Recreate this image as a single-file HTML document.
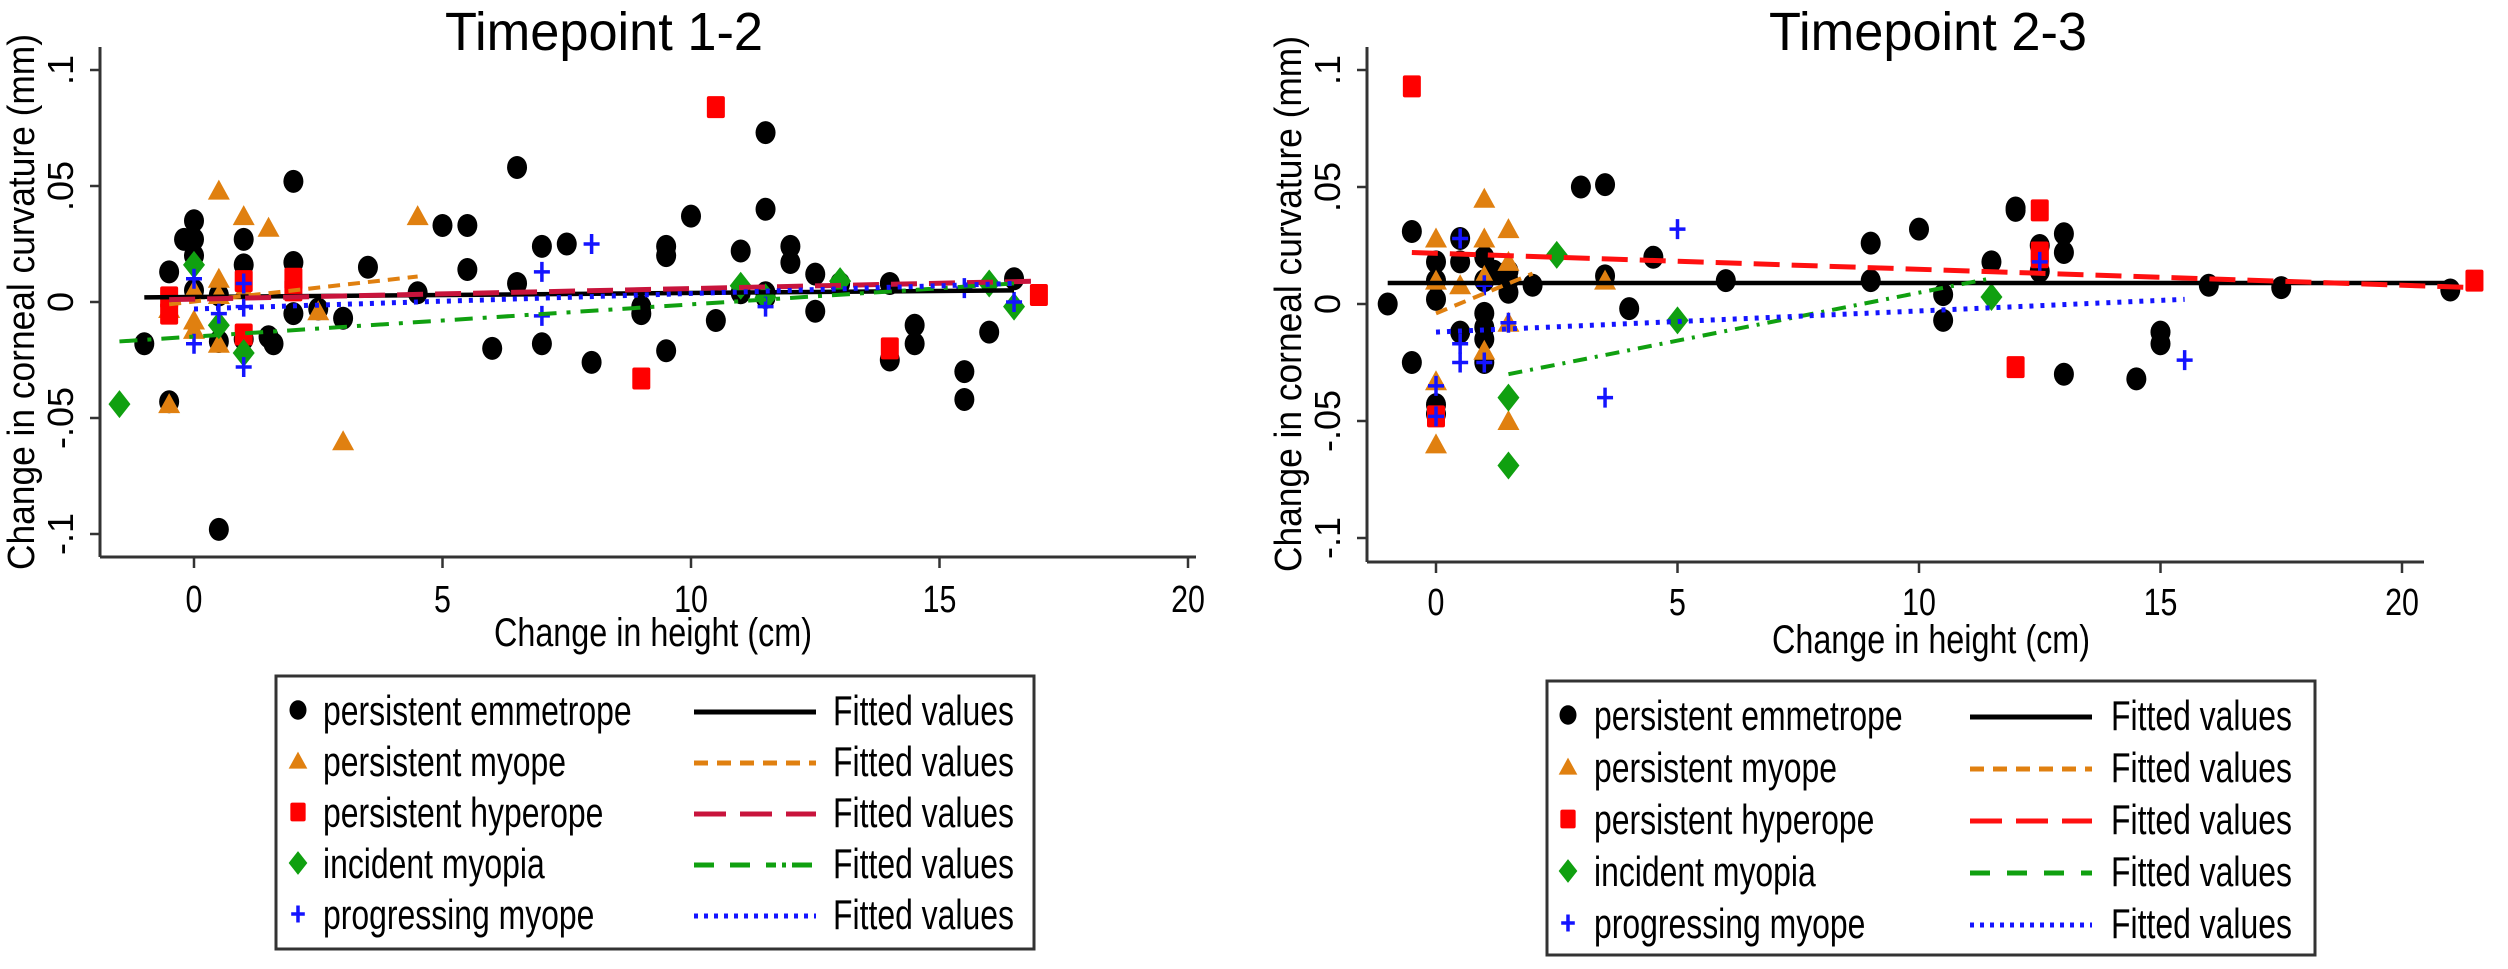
<!DOCTYPE html>
<html><head><meta charset="utf-8"><style>
html,body{margin:0;padding:0;background:#fff;}
svg{display:block;font-family:"Liberation Sans",sans-serif;}
</style></head><body>
<svg id="fig" width="2508" height="969" viewBox="0 0 2508 969" xmlns="http://www.w3.org/2000/svg"></svg>
<script>
// ---------- DATA: Timepoint 1-2 ----------
const p1EmmX = [-1,-0.5,-0.5,-0.2,0,0,0,0,0.5,0.5,0.5,1,1,1,1.5,1.6,2,2,2,2.5,3,3.5,4.5,5,5.5,5.5,6,6.5,6.5,7,7,7.5,8,9,9,9.5,9.5,9.5,10,10.5,11,11,11.5,11.5,11.5,11.5,12,12,12.5,12.5,13,14,14,14.5,14.5,15.5,15.5,16,16.5];
const p1EmmY = [-0.018,0.013,-0.043,0.027,0.027,0.035,0.02,0.005,0.003,-0.017,-0.098,0.027,0.016,-0.016,-0.015,-0.018,0.052,0.017,-0.005,-0.003,-0.007,0.015,0.004,0.033,0.033,0.014,-0.02,0.058,0.008,0.024,-0.018,0.025,-0.026,-0.005,-0.002,0.024,0.02,-0.021,0.037,-0.008,0.022,0.004,0.073,0.04,0.004,0.002,0.024,0.017,0.012,-0.004,0.008,0.008,-0.025,-0.01,-0.018,-0.03,-0.042,-0.013,0.01];
const p1MyoX = [-0.5,-0.5,0,0,0,0.5,0.5,0.5,1,1,1.5,2.5,3,4.5,0.5];
const p1MyoY = [-0.044,-0.003,0.005,-0.012,-0.008,0.048,0.01,-0.018,0.037,0.005,0.032,-0.004,-0.06,0.037,0.003];
const p1HypX = [-0.5,-0.5,1,1,2,2,9,10.5,14,17];
const p1HypY = [-0.005,0.002,0.009,-0.014,0.01,0.005,-0.033,0.084,-0.02,0.003];
const p1IncX = [-1.5,0,0.5,1,11,13,16,16.5,11.5];
const p1IncY = [-0.044,0.016,-0.01,-0.022,0.007,0.009,0.008,-0.002,0.002];
const p1ProX = [0,0,1,1,1,7,7,8,11.5,15.5,16.5,0.5];
const p1ProY = [0.01,-0.018,0.008,-0.028,-0.002,0.013,-0.006,0.025,-0.002,0.006,0,-0.005];
// fitted lines: [emm, myo, hyp, inc, pro]
const p1FitX0 = [-1,-0.5,-0.5,-1.5,0];
const p1FitX1 = [16.5,4.5,17,16.5,16.5];
const p1FitY0 = [0.002,-0.001,0.001,-0.017,-0.003];
const p1FitY1 = [0.005,0.011,0.009,0.008,0.008];

// ---------- DATA: Timepoint 2-3 ----------
const p2EmmX = [-1,-0.5,-0.5,0,0,0,0.5,0.5,0.5,1,1,1,1,1,1,1.2,1.5,1.5,1.5,2,3,3.5,3.5,4,4.5,6,9,9,10,10.5,10.5,11.5,12,12,12.5,12.5,13,13,13,14.5,15,15,16,17.5,21,0,0];
const p2EmmY = [0,0.031,-0.025,0.018,0.01,0.002,0.028,0.018,-0.012,0.02,0.01,-0.004,-0.01,-0.015,-0.025,0.014,0.014,0.01,0.005,0.008,0.05,0.051,0.012,-0.002,0.02,0.01,0.026,0.01,0.032,0.004,-0.007,0.018,0.04,0.041,0.025,0.014,0.03,0.022,-0.03,-0.032,-0.012,-0.017,0.008,0.007,0.006,-0.043,-0.047];
const p2MyoX = [0,0,0,0,0.5,1,1,1,1,1.5,1.5,1.5,1.5,3.5];
const p2MyoY = [0.028,0.01,-0.033,-0.06,0.008,0.045,0.028,0.012,-0.02,0.032,0.018,-0.008,-0.05,0.01];
const p2HypX = [-0.5,0,12,12.5,12.5,12.5,21.5];
const p2HypY = [0.093,-0.048,-0.027,0.04,0.022,0.02,0.01];
const p2IncX = [1.5,1.5,2.5,5,11.5];
const p2IncY = [-0.04,-0.069,0.021,-0.007,0.003];
const p2ProX = [0,0,0.5,0.5,0.5,1,1,1.5,3.5,5,12.5,15.5];
const p2ProY = [-0.035,-0.048,0.028,-0.017,-0.025,0.008,-0.025,-0.008,-0.04,0.032,0.018,-0.024];
const p2FitX0 = [-1,0,-0.5,1.5,0];
const p2FitX1 = [21,2,21.5,11.5,15.5];
const p2FitY0 = [0.009,-0.004,0.022,-0.03,-0.012];
const p2FitY1 = [0.009,0.013,0.007,0.011,0.002];

const xTicks = [0,5,10,15,20];
const xTickLabels = ["0","5","10","15","20"];
const yTicks = [-0.1,-0.05,0,0.05,0.1];
const yTickLabels = ["-.1","-.05","0",".05",".1"];
const legendLabels = ["persistent emmetrope","persistent myope","persistent hyperope","incident myopia","progressing myope"];

const NS = "http://www.w3.org/2000/svg";
const svg = document.getElementById("fig");
function mk(tag, attrs, parent){
  const e = document.createElementNS(NS, tag);
  for (const k in attrs) e.setAttribute(k, attrs[k]);
  (parent||svg).appendChild(e);
  return e;
}
const COL = {emm:"#000000", myo:"#E08010", hyp:"#FF0000", inc:"#10A010", pro:"#1414FF"};

function marker(g, kind, cx, cy, s, name){
  let e;
  if (kind==="emm") e = mk("ellipse",{cx:cx,cy:cy,rx:10*s,ry:11.5*s,fill:COL.emm},g);
  else if (kind==="myo") e = mk("polygon",{points:`${cx-11*s},${cy+9*s} ${cx+11*s},${cy+9*s} ${cx},${cy-11*s}`,fill:COL.myo},g);
  else if (kind==="hyp") e = mk("rect",{x:cx-9*s,y:cy-11*s,width:18*s,height:22*s,rx:2,fill:COL.hyp},g);
  else if (kind==="inc") e = mk("polygon",{points:`${cx},${cy-14*s} ${cx+11*s},${cy} ${cx},${cy+14*s} ${cx-11*s},${cy}`,fill:COL.inc},g);
  else e = mk("path",{d:`M${cx-8*s},${cy}H${cx+8*s}M${cx},${cy-10*s}V${cy+10*s}`,stroke:COL.pro,"stroke-width":3.5,fill:"none"},g);
  
  
  return e;
}

function text(g, str, x, y, size, opts){
  opts = opts||{};
  const t = mk("text",{x:x,y:y,"font-size":size,fill:"#000","text-anchor":opts.anchor||"middle"},g);
  if (opts.len){ t.setAttribute("textLength",opts.len); t.setAttribute("lengthAdjust","spacingAndGlyphs"); }
  if (opts.transform) t.setAttribute("transform",opts.transform);
  t.textContent = str;
  return t;
}

function panel(cfg){
  const g = mk("g",{});
  
  
  const X = v => cfg.x0 + v*cfg.xs;
  const Y = v => cfg.y0 - v*cfg.ys;

  const title = text(g, cfg.title, cfg.titleX, 50, 54, {len:318});
  
  

  const yax = mk("line",{x1:cfg.axX,y1:47,x2:cfg.axX,y2:cfg.axY,stroke:"#333","stroke-width":3},g);
  
  
  const xax = mk("line",{x1:cfg.axX,y1:cfg.axY,x2:cfg.axXEnd,y2:cfg.axY,stroke:"#333","stroke-width":3},g);
  
  

  yTicks.forEach((v,i)=>{
    const tk = mk("line",{x1:cfg.axX-10,y1:Y(v),x2:cfg.axX,y2:Y(v),stroke:"#333","stroke-width":2.5},g);
    
    
    const lb = text(g, yTickLabels[i], 0, 0, 36, {transform:`translate(${cfg.axX-27},${Y(v)}) rotate(-90)`});
    
    
  });
  xTicks.forEach((v,i)=>{
    const tk = mk("line",{x1:X(v),y1:cfg.axY,x2:X(v),y2:cfg.axY+11,stroke:"#333","stroke-width":2.5},g);
    
    
    const lb = text(g, xTickLabels[i], 0, 0, 38, {transform:`translate(${X(v)},${cfg.tickY}) scale(0.8,1)`});
    
    
  });
  const xt = text(g, "Change in height (cm)", cfg.xTitleX, cfg.xTitleY, 40, {len:318});
  
  
  const yt = text(g, "Change in corneal curvature (mm)", 0, 0, 38, {len:536, transform:`translate(${cfg.axX-66},${cfg.y0}) rotate(-90)`});
  
  

  const series = [["emm",cfg.d[0],cfg.d[1]],["myo",cfg.d[2],cfg.d[3]],["hyp",cfg.d[4],cfg.d[5]],["inc",cfg.d[6],cfg.d[7]],["pro",cfg.d[8],cfg.d[9]]];
  series.forEach((s,si)=>{
    const sg = mk("g",{},g);
    
    
    s[1].forEach((xv,i)=> marker(sg, s[0], X(xv), Y(s[2][i]), 1, 'point'));
  });
  const fitCols = [COL.emm, COL.myo, cfg.hypFitCol, COL.inc, COL.pro];
  const fitDash = ["", "12 8", "26 12", cfg.incDash, "4 7"];
  const fitW = [4.5,4,5,4,5];
  for (let k=0;k<5;k++){
    const ln = mk("line",{x1:X(cfg.fx0[k]),y1:Y(cfg.fy0[k]),x2:X(cfg.fx1[k]),y2:Y(cfg.fy1[k]),stroke:fitCols[k],"stroke-width":fitW[k],"stroke-dasharray":fitDash[k]},g);
    
    
  }

  const lg = mk("g",{},g);
  
  
  const box = mk("rect",{x:cfg.lx,y:cfg.ly,width:cfg.lw,height:cfg.lh,fill:"#fff",stroke:"#333","stroke-width":3},lg);
  
  
  const kinds=["emm","myo","hyp","inc","pro"];
  const legDash = ["", "14 9", "32 14", cfg.incLegDash, "4 6"];
  for (let k=0;k<5;k++){
    const ry = cfg.ly + 36 + k*cfg.rowH;
    const eg = mk("g",{},lg);
    
    
    marker(eg, kinds[k], cfg.lx+cfg.mOff, ry-2, 0.85, 'legend-marker');
    const t1 = text(eg, legendLabels[k], 0, 0, 42, {anchor:"start", transform:`translate(${cfg.lx+cfg.tOff},${ry+13}) scale(0.76,1)`});
    
    
    const l = mk("line",{x1:cfg.lx+cfg.lnOff,y1:ry,x2:cfg.lx+cfg.lnOff+122,y2:ry,stroke:fitCols[k],"stroke-width":5,"stroke-dasharray":legDash[k]},eg);
    
    
    const t2 = text(eg, "Fitted values", 0, 0, 42, {anchor:"start", transform:`translate(${cfg.lx+cfg.fOff},${ry+13}) scale(0.76,1)`});
    
    
  }
}

panel({name:"panel-timepoint-1-2", title:"Timepoint 1-2", titleX:604,
  x0:194, xs:49.7, y0:302, ys:2320, axX:100, axY:557, axXEnd:1196, tickY:612,
  xTitleX:653, xTitleY:646,
  d:[p1EmmX,p1EmmY,p1MyoX,p1MyoY,p1HypX,p1HypY,p1IncX,p1IncY,p1ProX,p1ProY],
  fx0:p1FitX0, fx1:p1FitX1, fy0:p1FitY0, fy1:p1FitY1,
  hypFitCol:"#C8143C", incDash:"18 10 4 10", incLegDash:"20 16 20 16 10 6 4 6",
  lx:276, ly:676, lw:758, lh:273, rowH:51, mOff:22, tOff:47, lnOff:418, fOff:557});

panel({name:"panel-timepoint-2-3", title:"Timepoint 2-3", titleX:1928,
  x0:1436, xs:48.3, y0:304, ys:2340, axX:1367, axY:562, axXEnd:2424, tickY:615,
  xTitleX:1931, xTitleY:653,
  d:[p2EmmX,p2EmmY,p2MyoX,p2MyoY,p2HypX,p2HypY,p2IncX,p2IncY,p2ProX,p2ProY],
  fx0:p2FitX0, fx1:p2FitX1, fy0:p2FitY0, fy1:p2FitY1,
  hypFitCol:"#FF1010", incDash:"14 8 3 8", incLegDash:"20 17",
  lx:1547, ly:681, lw:768, lh:274, rowH:52, mOff:21, tOff:47, lnOff:423, fOff:564});
</script>
</body></html>
